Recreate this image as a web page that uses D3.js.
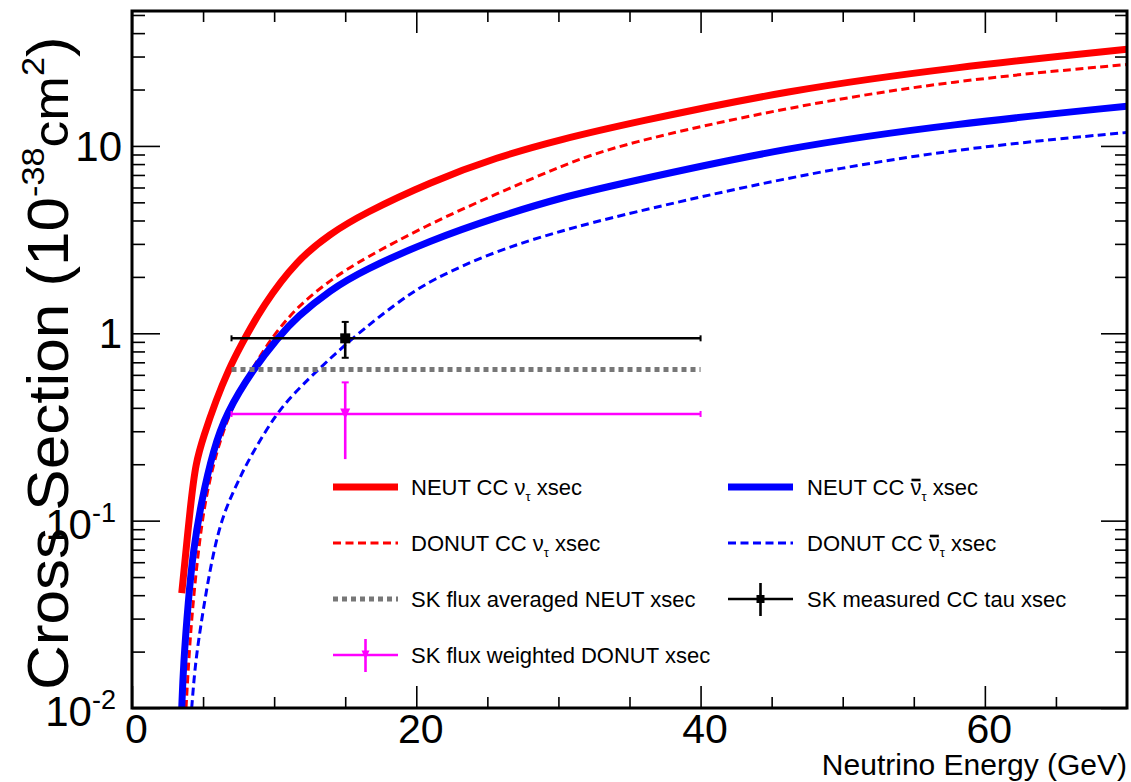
<!DOCTYPE html>
<html>
<head>
<meta charset="utf-8">
<script src="https://cdn.jsdelivr.net/npm/d3@7"></script>
<style>
  html, body { margin: 0; padding: 0; background: #fff; }
  svg text { font-family: "Liberation Sans", Arial, Helvetica, sans-serif; fill: #000; }
</style>
</head>
<body>
<svg id="chart" width="1131" height="782"></svg>
<script>
// Cross sections [energy (GeV), sigma (1e-38 cm^2)]
const neutNu = [[3.5,0.041],[4.15,0.129],[4.48,0.202],[5.02,0.28],[5.91,0.44],[6.8,0.64],[7.6,0.845],[9.24,1.42],[11.59,2.45],[13.93,3.40],[16.27,4.35],[20.97,6.41],[25.66,8.71],[30.3,10.9],[35.0,13.2],[46.06,19.8],[57.8,26.3],[70,32.8]];
const neutNuBar = [[3.5,0.01],[3.61,0.0166],[3.96,0.0377],[4.31,0.0696],[4.9,0.129],[5.72,0.238],[6.6,0.371],[8.5,0.64],[10.3,0.955],[11.59,1.22],[13.93,1.70],[16.27,2.17],[20.97,3.13],[25.66,4.17],[30.3,5.33],[34.3,6.27],[46.06,9.85],[57.8,13.1],[70,16.3]];
const donutNu = [[3.8,0.01],[4.03,0.0204],[4.31,0.0377],[4.67,0.0696],[5.14,0.129],[5.96,0.238],[7.0,0.40],[8.4,0.64],[9.83,0.95],[11.59,1.38],[13.93,1.92],[16.27,2.50],[20.97,3.85],[25.66,5.56],[30.3,7.87],[34.3,10.2],[46.06,16.1],[57.8,22.4],[70,27.2]];
const donutNuBar = [[4.2,0.01],[4.43,0.0166],[4.78,0.026],[5.49,0.056],[6.31,0.105],[7.5,0.164],[8.18,0.21],[10.1,0.371],[11.8,0.517],[15.3,0.92],[18.62,1.45],[20.97,1.92],[25.66,2.77],[30.3,3.54],[34.3,4.26],[46.06,6.82],[57.8,9.66],[70,11.8]];

// Flux-averaged values over the 7-40 GeV band
const fluxBand = [7, 40];
const fluxCentre = 15;
const skNeutAvg = 0.64;
const skDonutWeighted = { value: 0.371, lo: 0.213, hi: 0.547 };
const skMeasured = { value: 0.94, lo: 0.74, hi: 1.15 };

// Axis ticks
const xMajor = [0, 20, 40, 60];
const xMinor = [5, 10, 15, 25, 30, 35, 45, 50, 55, 65];
const yMajor = [0.01, 0.1, 1, 10];
const yLabels = [["10", "-2"], ["10", "-1"], ["1", ""], ["10", ""]];

const svg = d3.select("#chart");
const L = 132, R = 1127, T = 11, B = 708;
const x = d3.scaleLinear().domain([0, 70]).range([L, R]);
const y = d3.scaleLog().domain([0.01, 52.5]).range([B, T]);

const yMinor = [];
[0.01, 0.1, 1, 10].forEach(d => { for (let k = 2; k <= 9; k++) { const v = d * k; if (v < 52.5) yMinor.push(v); } });

svg.append("defs").append("clipPath").attr("id", "plotclip")
  .append("rect").attr("x", L).attr("y", T).attr("width", R - L).attr("height", B - T);

// ---- ticks ----
function tickAxis(axis, tx, ty) {
  const g = svg.append("g").attr("transform", `translate(${tx},${ty})`).call(axis);
  g.select(".domain").remove();
  g.selectAll(".tick line").attr("stroke", "#000").attr("stroke-width", 1.6);
  return g;
}
const fmtNone = () => "";
const gxb = tickAxis(d3.axisBottom(x).tickValues(xMajor).tickSizeInner(-22).tickSizeOuter(0).tickPadding(6), 0, B);
gxb.selectAll(".tick text").attr("font-size", 41).attr("fill", "#000").attr("dx", 4)
  .style("font-family", "'Liberation Sans', Arial, sans-serif");
tickAxis(d3.axisBottom(x).tickValues(xMinor).tickSizeInner(-11).tickSizeOuter(0).tickFormat(fmtNone), 0, B);
tickAxis(d3.axisTop(x).tickValues(xMajor).tickSizeInner(-22).tickSizeOuter(0).tickFormat(fmtNone), 0, T);
tickAxis(d3.axisTop(x).tickValues(xMinor).tickSizeInner(-11).tickSizeOuter(0).tickFormat(fmtNone), 0, T);
tickAxis(d3.axisLeft(y).tickValues(yMajor).tickSizeInner(-28).tickSizeOuter(0).tickFormat(fmtNone), L, 0);
tickAxis(d3.axisLeft(y).tickValues(yMinor).tickSizeInner(-13).tickSizeOuter(0).tickFormat(fmtNone), L, 0);
tickAxis(d3.axisRight(y).tickValues(yMajor).tickSizeInner(-26).tickSizeOuter(0).tickFormat(fmtNone), R, 0);
tickAxis(d3.axisRight(y).tickValues(yMinor).tickSizeInner(-12).tickSizeOuter(0).tickFormat(fmtNone), R, 0);

// y tick labels (powers of ten)
yMajor.forEach((v, i) => {
  const [base, sup] = yLabels[i];
  const t = svg.append("text").attr("text-anchor", "end").attr("font-size", 42)
    .attr("x", sup ? 116 : 122).attr("y", y(v) + (sup ? 18 : 15));
  t.append("tspan").text(base);
  if (sup) t.append("tspan").attr("font-size", 27).attr("dy", -17).text(sup);
});

// ---- curves ----
const plot = svg.append("g").attr("clip-path", "url(#plotclip)");
const line = d3.line().x(d => x(d[0])).y(d => y(d[1])).curve(d3.curveBasis);
const curves = [
  { data: donutNuBar, color: "#0000ff", width: 3, dash: "8,4.5" },
  { data: donutNu, color: "#ff0000", width: 3, dash: "8,4.5" },
  { data: neutNuBar, color: "#0000ff", width: 7, dash: null },
  { data: neutNu, color: "#ff0000", width: 7, dash: null }
];
curves.forEach(c => {
  plot.append("path").attr("d", line(c.data)).attr("fill", "none")
    .attr("stroke", c.color).attr("stroke-width", c.width)
    .attr("stroke-dasharray", c.dash);
});

// SK flux-averaged NEUT value
plot.append("line")
  .attr("x1", x(fluxBand[0])).attr("x2", x(fluxBand[1]))
  .attr("y1", y(skNeutAvg)).attr("y2", y(skNeutAvg))
  .attr("stroke", "#777").attr("stroke-width", 5).attr("stroke-dasharray", "5,4");

// horizontal + vertical error bars
function errorPoint(g, d, color, w, marker, capBottom) {
  const yc = y(d.value), xc = x(fluxCentre);
  g.append("line").attr("x1", x(fluxBand[0])).attr("x2", x(fluxBand[1]))
    .attr("y1", yc).attr("y2", yc).attr("stroke", color).attr("stroke-width", w);
  [fluxBand[0], fluxBand[1]].forEach(e => g.append("line")
    .attr("x1", x(e)).attr("x2", x(e)).attr("y1", yc - 3).attr("y2", yc + 3)
    .attr("stroke", color).attr("stroke-width", 2));
  g.append("line").attr("x1", xc).attr("x2", xc).attr("y1", y(d.hi)).attr("y2", y(d.lo))
    .attr("stroke", color).attr("stroke-width", w);
  g.append("line").attr("x1", xc - 3.5).attr("x2", xc + 3.5).attr("y1", y(d.hi)).attr("y2", y(d.hi))
    .attr("stroke", color).attr("stroke-width", 2);
  if (capBottom) g.append("line").attr("x1", xc - 3.5).attr("x2", xc + 3.5).attr("y1", y(d.lo)).attr("y2", y(d.lo))
    .attr("stroke", color).attr("stroke-width", 2);
  marker(g, xc, yc);
}
const triDown = (s) => (g, cx, cy) => g.append("path")
  .attr("d", `M${cx - s},${cy - s * 1.1}L${cx + s},${cy - s * 1.1}L${cx},${cy + s}Z`).attr("fill", "#ff00ff");
const square = (s) => (g, cx, cy) => g.append("rect")
  .attr("x", cx - s).attr("y", cy - s).attr("width", 2 * s).attr("height", 2 * s).attr("fill", "#000");

errorPoint(plot, skDonutWeighted, "#ff00ff", 2.6, triDown(5), false);
errorPoint(plot, skMeasured, "#000", 2.6, square(5), true);

// frame
svg.append("rect").attr("x", L).attr("y", T).attr("width", R - L).attr("height", B - T)
  .attr("fill", "none").attr("stroke", "#000").attr("stroke-width", 3);

// ---- axis titles ----
svg.append("text").attr("text-anchor", "end").attr("font-size", 30)
  .attr("x", 1127).attr("y", 775).text("Neutrino Energy (GeV)");

const yt = svg.append("text").attr("font-size", 58)
  .attr("transform", "translate(68,690) rotate(-90) scale(1.07,1)");
yt.append("tspan").text("Cross Section (10");
yt.append("tspan").attr("font-size", 32).attr("dy", -24).text("-38");
yt.append("tspan").attr("font-size", 50).attr("dy", 24).text("cm");
yt.append("tspan").attr("font-size", 32).attr("dy", -24).text("2");
yt.append("tspan").attr("dy", 24).text(")");

// ---- legend ----
const legendRows = [487, 543, 599, 655];
const legendCols = [{ x0: 333, x1: 398, tx: 411 }, { x0: 728, x1: 793, tx: 807 }];
const legendItems = [
  { col: 0, row: 0, kind: "line", color: "#ff0000", width: 7, dash: null, pre: "NEUT CC ", nu: true, bar: false },
  { col: 1, row: 0, kind: "line", color: "#0000ff", width: 7, dash: null, pre: "NEUT CC ", nu: true, bar: true },
  { col: 0, row: 1, kind: "line", color: "#ff0000", width: 3, dash: "8,4.5", pre: "DONUT CC ", nu: true, bar: false },
  { col: 1, row: 1, kind: "line", color: "#0000ff", width: 3, dash: "8,4.5", pre: "DONUT CC ", nu: true, bar: true },
  { col: 0, row: 2, kind: "line", color: "#777", width: 5, dash: "5,4", pre: "SK flux averaged NEUT xsec", nu: false },
  { col: 1, row: 2, kind: "err", color: "#000", marker: square(4), pre: "SK measured CC tau xsec", nu: false },
  { col: 0, row: 3, kind: "err", color: "#ff00ff", marker: triDown(4), pre: "SK flux weighted DONUT xsec", nu: false }
];
const lg = svg.append("g");
legendItems.forEach(it => {
  const c = legendCols[it.col], yr = legendRows[it.row];
  if (it.kind === "line") {
    lg.append("line").attr("x1", c.x0).attr("x2", c.x1).attr("y1", yr).attr("y2", yr)
      .attr("stroke", it.color).attr("stroke-width", it.width).attr("stroke-dasharray", it.dash);
  } else {
    const xm = (c.x0 + c.x1) / 2;
    lg.append("line").attr("x1", c.x0).attr("x2", c.x1).attr("y1", yr).attr("y2", yr)
      .attr("stroke", it.color).attr("stroke-width", 2.6);
    lg.append("line").attr("x1", xm).attr("x2", xm).attr("y1", yr - 16).attr("y2", yr + 17)
      .attr("stroke", it.color).attr("stroke-width", 2.6);
    it.marker(lg, xm, yr);
  }
  const t = lg.append("text").attr("font-size", 22).attr("x", c.tx).attr("y", yr + 8);
  t.append("tspan").text(it.pre);
  if (it.nu) {
    t.append("tspan").text("\u03bd");
    t.append("tspan").attr("font-size", 13).attr("dy", 6).text("\u03c4");
    t.append("tspan").attr("dy", -6).text(" xsec");
    if (it.bar) {
      const idx = it.pre.length;
      const box = t.node().getExtentOfChar(idx);
      lg.append("line").attr("x1", box.x + 1).attr("x2", box.x + box.width - 1)
        .attr("y1", yr - 7).attr("y2", yr - 7).attr("stroke", "#000").attr("stroke-width", 2.6);
    }
  }
});
</script>
</body>
</html>
